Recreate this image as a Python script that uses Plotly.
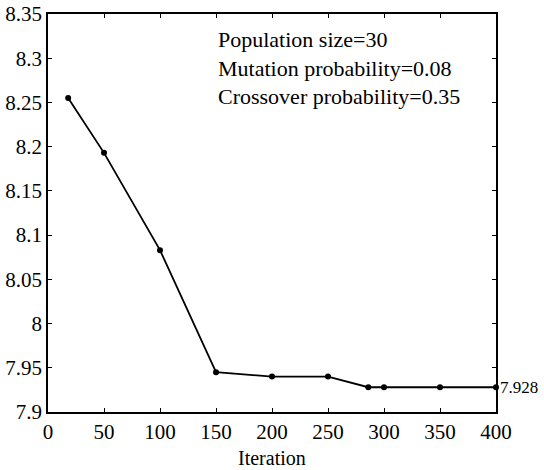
import plotly.graph_objects as go

iterations = [18, 50, 100, 150, 200, 250, 286, 300, 350, 400]
fitness = [8.255, 8.193, 8.083, 7.945, 7.940, 7.940, 7.928, 7.928, 7.928, 7.928]
x_ticks = [0, 50, 100, 150, 200, 250, 300, 350, 400]
y_ticks = [7.9, 7.95, 8.0, 8.05, 8.1, 8.15, 8.2, 8.25, 8.3, 8.35]
y_labels = ["7.9", "7.95", "8", "8.05", "8.1", "8.15", "8.2", "8.25", "8.3", "8.35"]
params_text = ["Population size=30", "Mutation probability=0.08", "Crossover probability=0.35"]
final_label = "7.928"

font = "Liberation Serif"

fig = go.Figure()
fig.add_trace(go.Scatter(
    x=iterations, y=fitness, mode="lines+markers",
    line=dict(color="black", width=1.8),
    marker=dict(color="black", size=6, symbol="circle"),
    showlegend=False, cliponaxis=False,
))

axis_common = dict(
    showline=True, linecolor="black", linewidth=1.5, mirror="ticks",
    ticks="inside", ticklen=4, tickcolor="black", showgrid=False, zeroline=False,
    tickfont=dict(family=font, size=21, color="black"), automargin=False,
)
fig.update_xaxes(range=[0, 400], tickvals=x_ticks, ticktext=[str(v) for v in x_ticks],
                 **axis_common)
fig.update_yaxes(range=[7.9, 8.35], tickvals=y_ticks, ticktext=y_labels, **axis_common)

fig.add_annotation(
    xref="x", yref="y", x=150, y=8.338, xanchor="left", yanchor="top",
    text="<br>".join(params_text), align="left", showarrow=False,
    font=dict(family=font, size=22, color="black"),
)
fig.add_annotation(
    xref="paper", yref="y", x=1.0, y=7.928, xanchor="left", yanchor="middle", xshift=2,
    text=final_label, showarrow=False, font=dict(family=font, size=17, color="black"),
)
fig.add_annotation(
    xref="paper", yref="paper", x=0.5, y=-0.083, xanchor="center", yanchor="top",
    text="Iteration", showarrow=False, font=dict(family=font, size=20, color="black"),
)

fig.update_layout(
    width=544, height=470, margin=dict(l=48, r=48, t=14, b=58),
    font=dict(family=font, color="black"),
    plot_bgcolor="white", paper_bgcolor="white",
)
fig.write_html(
    "out.html",
    config={"displayModeBar": False},
    post_script="document.body.style.margin='0';document.body.style.overflow='hidden';",
)
